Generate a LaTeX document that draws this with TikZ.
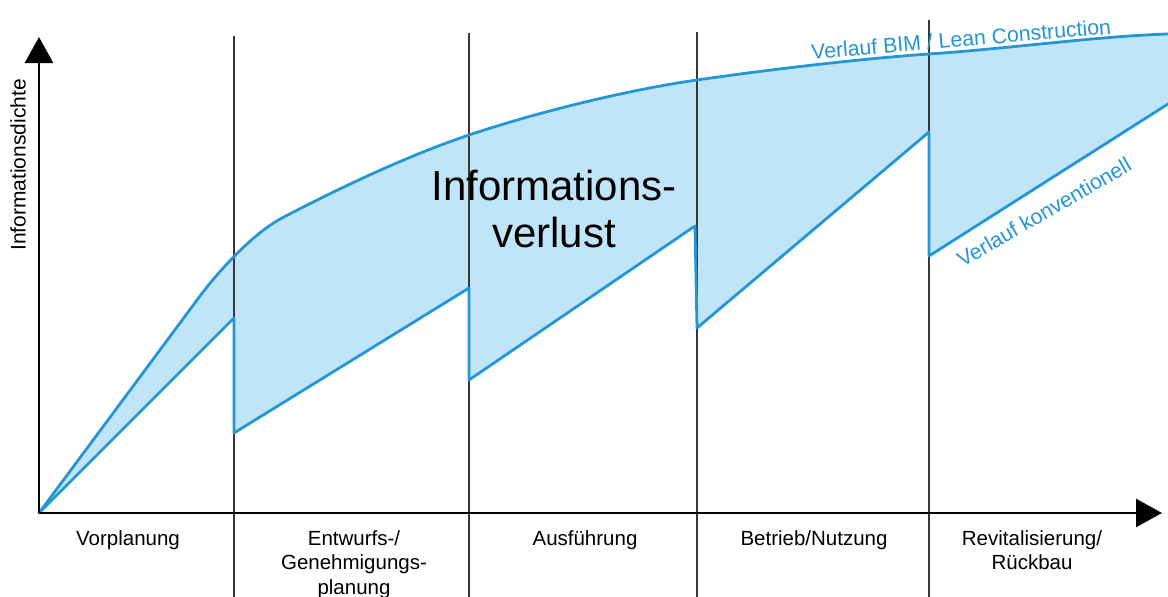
\documentclass[tikz,border=0pt]{standalone}
\usepackage{fontspec}
\setmainfont{Liberation Sans}
\usetikzlibrary{arrows.meta}

\definecolor{curveblue}{RGB}{36,150,214}
\definecolor{lossfill}{RGB}{192,229,248}
\definecolor{divider}{RGB}{55,55,55}

\tikzset{
  axisline/.style={line width=2.8pt, black, -{Triangle[length=26pt,width=28pt]}},
  phaseline/.style={line width=1.3pt, divider},
  curve/.style={line width=2.8pt, curveblue, line join=round, line cap=round},
  phaselabel/.style={font=\fontsize{20.5}{24.5}\selectfont, align=center, anchor=base, inner sep=0pt},
  bluelabel/.style={font=\fontsize{21.3}{24}\selectfont, text=curveblue, inner sep=0pt},
}

% upper curve: straight rise, then a flattening bend towards the right edge
\newcommand\bimcurvepath{(O) -- (u1) .. controls (218,272) and (252,234) .. (u2)
  .. controls (320,198) and (400,158) .. (u3)
  .. controls (550,108) and (640,88) .. (u4)
  .. controls (780,68) and (870,58) .. (u5)
  .. controls (1010,48.5) and (1100,36) .. (u6)}

\begin{document}
\begin{tikzpicture}[x=1pt,y=-1pt]
\useasboundingbox (0,0) rectangle (1168,597);
\clip (0,0) rectangle (1168,597);

% origin and axis ends
\coordinate (O) at (39,513);
\coordinate (yend) at (39,37);
\coordinate (xend) at (1162,513);

% upper curve (BIM / Lean Construction)
\coordinate (u1) at (200,296);
\coordinate (u2) at (282,218);
\coordinate (u3) at (469,135);
\coordinate (u4) at (697,80);
\coordinate (u5) at (929,54);
\coordinate (u6) at (1168,34);

% lower saw-tooth curve (conventional)
\coordinate (l1) at (234,318);
\coordinate (l2) at (234,433);
\coordinate (l3) at (469,288);
\coordinate (l4) at (469,380);
\coordinate (l5) at (695,226);
\coordinate (l6) at (697,328);
\coordinate (l7) at (929,132);
\coordinate (l8) at (929,256);
\coordinate (l9) at (1168,104);

% shaded area between the two curves
\fill[lossfill] \bimcurvepath
  -- (l9) -- (l8) -- (l7) -- (l6) -- (l5) -- (l4) -- (l3) -- (l2) -- (l1) -- cycle;

% phase dividers
\coordinate (d1t) at (234,36);  \coordinate (d1b) at (234,597);
\coordinate (d2t) at (469,33);  \coordinate (d2b) at (469,597);
\coordinate (d3t) at (697,32);  \coordinate (d3b) at (697,597);
\coordinate (d4t) at (929,20);  \coordinate (d4b) at (929,597);
\draw[phaseline] (d1t) -- (d1b);
\draw[phaseline] (d2t) -- (d2b);
\draw[phaseline] (d3t) -- (d3b);
\draw[phaseline] (d4t) -- (d4b);

% curves
\draw[curve] \bimcurvepath;
\draw[curve] (O) -- (l1) -- (l2) -- (l3) -- (l4) -- (l5) -- (l6) -- (l7) -- (l8) -- (l9);

% axes
\draw[axisline] (O) -- (yend);
\draw[axisline] (O) -- (xend);

% axis label
\node[font=\fontsize{21}{24}\selectfont, rotate=90, inner sep=0pt] (ylabel) at (18,165) {Informationsdichte};

% central label
\node[font=\fontsize{42}{47}\selectfont, align=center, anchor=base, inner sep=0pt] (loss) at (554,247) {Informations-\\verlust};

% curve labels
\node[bluelabel, rotate=4.8] (bim) at (961,39) {Verlauf BIM / Lean Construction};
\node[bluelabel, rotate=30] (conv) at (1044,212) {Verlauf konventionell};

% phase labels
\node[phaselabel] (p1) at (128,545) {Vorplanung};
\node[phaselabel] (p2) at (354,594) {Entwurfs-/\\Genehmigungs-\\planung};
\node[phaselabel] (p3) at (585,545) {Ausführung};
\node[phaselabel] (p4) at (814,545) {Betrieb/Nutzung};
\node[phaselabel] (p5) at (1032,569.5) {Revitalisierung/\\Rückbau};
\end{tikzpicture}
\end{document}
